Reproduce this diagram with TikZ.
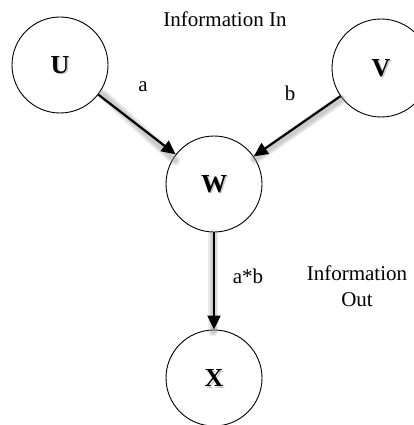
\documentclass[tikz,border=0pt]{standalone}
\usepackage{fontspec}
\setmainfont{Liberation Serif}
\usetikzlibrary{arrows.meta}
\begin{document}
\begin{tikzpicture}[x=1pt,y=-1pt,
  state/.style={circle,draw=black,line width=0.9pt,minimum size=96pt,inner sep=0pt},
  letter/.style={font=\fontsize{26}{30}\selectfont\bfseries},
  lbl/.style={font=\fontsize{21}{26}\selectfont,inner sep=0pt},
  flow/.style={line width=2.2pt,-{Triangle[length=14pt,width=13pt]}},
  glow/.style={line width=#1,draw=black!45,opacity=0.18,line cap=round}]
\useasboundingbox (0,0) rectangle (414,425);
\clip (0,0) rectangle (414,425);

% nodes
\node[state] (U) at (60,65) {};
\node[state,minimum size=98pt] (V) at (381,68) {};
\node[state] (W) at (214,184) {};
\node[state] (X) at (214,378) {};

% soft shadows of the letters
\foreach \n/\t in {U/U,V/V,W/W,X/X}
  \node[letter,text=black!35,opacity=0.6] at ([shift={(1.5,1.5)}]\n.center) {\t};
\node[letter] at (U.center) {U};
\node[letter] at (V.center) {V};
\node[letter] at (W.center) {W};
\node[letter] at (X.center) {X};

% anchors for the connector shadows
\coordinate (uw0) at (U.-33);
\coordinate (uw1) at (W.147);
\coordinate (vw0) at (V.-145);
\coordinate (vw1) at (W.35);
\coordinate (wx0) at (W.south);
\coordinate (wx1) at (X.north);

% blurred shadows under the connectors
\foreach \w in {10pt,7pt,4pt} {
  \draw[glow=\w] ([shift={(2,3)}]uw0) -- ([shift={(2,3)}]uw1);
  \draw[glow=\w] ([shift={(1,3)}]vw0) -- ([shift={(1,3)}]vw1);
  \draw[glow=\w] ([shift={(-1,2)}]wx0) -- ([shift={(-1,2)}]wx1);
}

% connectors
\draw[flow] (U) -- (W);
\draw[flow] (V) -- (W);
\draw[flow] (W) -- (X);

% labels
\node[lbl] (a) at (143,87) {a};
\node[lbl] (b) at (290,93) {b};
\node[lbl] (ab) at (248,276) {a*b};
\node[lbl] (in) at (225,19) {Information In};
\node[lbl,align=center] (out) at (357,286) {Information\\Out};
\end{tikzpicture}
\end{document}
